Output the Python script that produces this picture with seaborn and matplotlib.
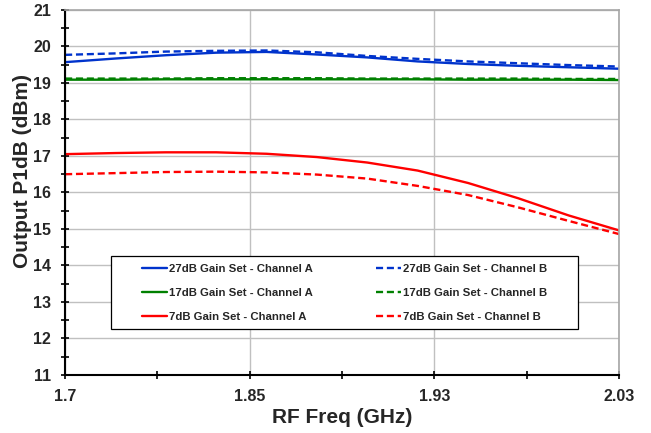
import numpy as np
import pandas as pd
import seaborn as sns
import matplotlib.pyplot as plt
from matplotlib.ticker import MultipleLocator, FixedLocator
from matplotlib.patches import Rectangle

# data
freq = [1.70, 1.73, 1.76, 1.79, 1.82, 1.85, 1.88, 1.91, 1.94, 1.97, 2.00, 2.03]
g27_a = [19.57, 19.67, 19.76, 19.83, 19.85, 19.78, 19.70, 19.59, 19.52, 19.47, 19.43, 19.39]
g27_b = [19.77, 19.81, 19.86, 19.88, 19.89, 19.84, 19.74, 19.66, 19.59, 19.54, 19.49, 19.45]
g17_a = [19.09, 19.09, 19.10, 19.10, 19.10, 19.10, 19.10, 19.10, 19.09, 19.09, 19.09, 19.08]
g17_b = [19.12, 19.12, 19.12, 19.13, 19.13, 19.13, 19.12, 19.12, 19.12, 19.12, 19.11, 19.11]
g7_a = [17.05, 17.08, 17.10, 17.10, 17.06, 16.97, 16.82, 16.60, 16.26, 15.84, 15.37, 14.96]
g7_b = [16.50, 16.53, 16.56, 16.57, 16.55, 16.49, 16.38, 16.18, 15.93, 15.59, 15.22, 14.86]

xtick_pos = [1.70, 1.81, 1.92, 2.03]
xtick_labels = ["1.7", "1.85", "1.93", "2.03"]

dash = (0, (3, 1.6))
series = [
    ("27dB Gain Set - Channel A", g27_a, "#0033cc", "-"),
    ("17dB Gain Set - Channel A", g17_a, "#008000", "-"),
    ("7dB Gain Set - Channel A", g7_a, "#ff0000", "-"),
    ("27dB Gain Set - Channel B", g27_b, "#0033cc", dash),
    ("17dB Gain Set - Channel B", g17_b, "#008000", dash),
    ("7dB Gain Set - Channel B", g7_b, "#ff0000", dash),
]

sns.set_style("white")
plt.rcParams['font.family'] = ['Liberation Sans', 'DejaVu Sans']
plt.rcParams['font.weight'] = 'bold'

fig, ax = plt.subplots(figsize=(6.51, 4.33), dpi=100)
fig.subplots_adjust(left=0.1, right=0.951, top=0.977, bottom=0.134)

for name, vals, col, ls in series:
    sns.lineplot(x=freq, y=vals, ax=ax, color=col, linestyle=ls, linewidth=1.7, label=name)

ax.set_xlim(1.70, 2.03)
ax.set_ylim(11, 21)
ax.xaxis.set_major_locator(FixedLocator(xtick_pos))
ax.set_xticklabels(xtick_labels)
ax.xaxis.set_minor_locator(FixedLocator([1.755, 1.865, 1.975]))
ax.yaxis.set_major_locator(MultipleLocator(1))
ax.yaxis.set_minor_locator(MultipleLocator(0.5))

ax.grid(True, which='major', color='#c0c0c0', linewidth=1)
ax.set_axisbelow(True)
for s in ['top', 'right']:
    ax.spines[s].set_color('#a6a6a6')
    ax.spines[s].set_linewidth(1.2)
for s in ['left', 'bottom']:
    ax.spines[s].set_color('black')
    ax.spines[s].set_linewidth(1.5)

ax.tick_params(which='both', direction='inout', length=6, width=1.2, color='black',
               labelsize=11.5, pad=7)
ax.tick_params(axis='y', which='both', right=False, left=True)
ax.tick_params(axis='x', which='both', top=False, bottom=True)
for lab in ax.get_xticklabels() + ax.get_yticklabels():
    lab.set_fontweight('bold')

ax.set_xlabel("RF Freq (GHz)", fontsize=15, fontweight='bold', labelpad=3)
ax.set_ylabel("Output P1dB (dBm)", fontsize=15, fontweight='bold')
ax.yaxis.set_label_coords(-0.06, 0.56)

# legend box drawn as its own frame, entries placed inside
ax.add_patch(Rectangle((0.0825, 0.126), 0.8435, 0.201, transform=ax.transAxes,
                       facecolor='white', edgecolor='black', linewidth=0.9, zorder=4))
leg = ax.legend(ncol=2, loc='upper left', bbox_to_anchor=(0.139, 0.305),
                fontsize=8.2, frameon=False, borderpad=0, borderaxespad=0,
                handlelength=2.2, handletextpad=0.2, labelspacing=1.25,
                columnspacing=5.5)
leg.set_zorder(5)
for t in leg.get_texts():
    t.set_fontweight('bold')

plt.savefig("out.png", dpi=100)
